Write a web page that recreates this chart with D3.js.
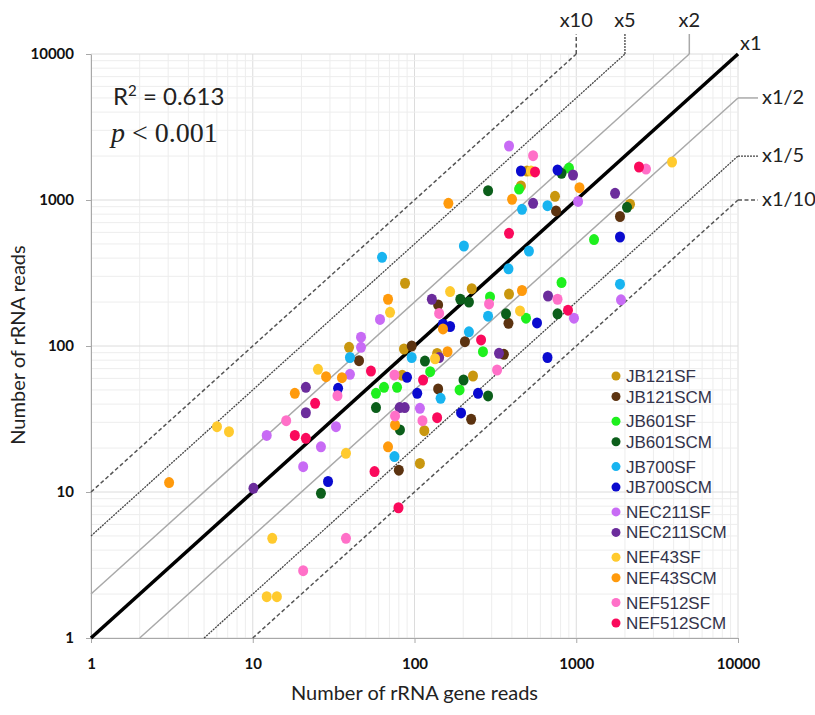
<!DOCTYPE html>
<html>
<head>
<meta charset="utf-8">
<script src="https://cdn.jsdelivr.net/npm/d3@7"></script>
<style>
  body { margin: 0; background: #fff; }
  svg text { font-family: Lato, 'Open Sans', sans-serif; }
</style>
</head>
<body>
<svg width="815" height="715"></svg>
<script>
// nombres de las series (leyenda)
const seriesNames = ['JB121SF', 'JB121SCM', 'JB601SF', 'JB601SCM', 'JB700SF', 'JB700SCM',
  'NEC211SF', 'NEC211SCM', 'NEF43SF', 'NEF43SCM', 'NEF512SF', 'NEF512SCM'];

// [rRNA gene reads, rRNA reads]
const jb121sf = [[496,1580],[455,1247],[739,1060],[2150,935],[226,247],[384,227],[87.4,269],
  [39.4,98],[86.1,95.4],[138,89],[84,63],[230,62.3],[115,26.3],[108,15.7]];
const jb121scm = [[750,841],[1864,771],[140,191],[45.4,79.3],[96.1,100],[140,50.8],[80,14.1],
  [381,143],[205,107],[357,87.7],[224,31.5]];
const jb601sf = [[902,1656],[443,1189],[1288,536],[811,272],[293,217],[125,66.7],[57.8,47.4],
  [64.8,52.1],[78,52.1],[489,155],[265,91.4],[190,50]];
const jb601scm = [[811,1524],[285,1158],[2060,891],[192,209],[217,200],[116,78.9],[57.8,37.9],
  [81.3,26.6],[26.4,9.8],[766,166],[368,166],[201,58.5],[285,45.5]];
const jb700sf = [[462,863],[664,914],[202,484],[510,447],[381,338],[1864,265],[63,405],
  [39.9,83.4],[96.1,83.4],[145,43.8],[75.2,17.5],[285,160],[217,125]];
const jb700scm = [[455,1580],[766,1605],[1864,558],[150,141],[166,136],[33.7,51.3],[89.9,61],
  [104,47.4],[194,34.8],[29.2,11.8],[572,144],[664,83.4],[247,47.4]];
const nec211sf = [[384,2344],[1026,977],[1891,207],[61.2,152],[46.7,115],[46.7,98],[39.9,64],
  [12.2,24.4],[32.7,28],[26.4,20.4],[20.5,14.9],[108,37.4],[968,155]];
const nec211scm = [[955,1483],[1738,1112],[541,949],[128,209],[142,83.4],[21.3,52.1],[21.3,34.9],
  [81,37.9],[87,37.9],[10.1,10.6],[669,220],[333,89.1]];
const nef43sf = [[525,1580],[3910,1821],[166,236],[70.6,170],[134,81.8],[25.3,69.2],[37.7,18.4],
  [6.01,28],[7.13,25.9],[13.2,4.82],[12.2,1.92],[14.1,1.92],[449,174]];
const nef43scm = [[162,949],[401,1011],[1047,1214],[462,240],[68.6,209],[150,131],[160,91.4],
  [28.4,61.6],[35.6,60.7],[18.2,47.4],[75.8,28.8],[68.6,20.4],[3.04,11.6]];
const nef512sf = [[541,2011],[2700,1630],[766,209],[142,167],[289,194],[75.2,63.3],[33.4,45.7],
  [16.1,30.8],[75.8,33.2],[112,30.8],[324,68.5],[37.7,4.82],[20.5,2.89]];
const nef512scm = [[556,1556],[2443,1683],[384,591],[889,176],[53.8,67.4],[113,58.5],[24.3,40.5],
  [18.2,24.4],[21.3,23.3],[138,32.3],[56.6,13.8],[79.6,7.8],[258,110]];

const seriesColors = ['#c9970f', '#5c3310', '#1ef01e', '#0b5e1a', '#18b4f0', '#0a0acf',
  '#c86bf5', '#6b2c9c', '#ffca2e', '#ff9a0c', '#ff70c8', '#fa0a5c'];

const xTicks = [1, 10, 100, 1000, 10000];
const yTicks = [1, 10, 100, 1000, 10000];
const folds = [10, 5, 2, 1, 0.5, 0.2, 0.1];
const foldLabels = ['x10', 'x5', 'x2', 'x1', 'x1/2', 'x1/5', 'x1/10'];

const series = [jb121sf, jb121scm, jb601sf, jb601scm, jb700sf, jb700scm,
  nec211sf, nec211scm, nef43sf, nef43scm, nef512sf, nef512scm]
  .map((pts, i) => ({ name: seriesNames[i], color: seriesColors[i], pts: pts }));

const svg = d3.select('svg');
const margin = { top: 54, bottom: 77, left: 91, right: 77 };
const width = 815 - margin.left - margin.right;
const height = 715 - margin.top - margin.bottom;

const chart = svg.append('g')
  .attr('transform', `translate(${margin.left}, ${margin.top})`);

const xScale = d3.scaleLog().domain([1, 10000]).range([0, width]);
const yScale = d3.scaleLog().domain([1, 10000]).range([height, 0]);

const isMajor = (v) => Math.abs(Math.log10(v) - Math.round(Math.log10(v))) < 1e-9;

/* rejilla */
const grid = chart.append('g').attr('class', 'grid');
grid.selectAll('.gx')
  .data(xScale.ticks())
  .enter().append('line')
  .attr('x1', (d) => xScale(d)).attr('x2', (d) => xScale(d))
  .attr('y1', 0).attr('y2', height)
  .attr('stroke', (d) => isMajor(d) ? '#dcdcdc' : '#ededed')
  .attr('stroke-width', 1);
grid.selectAll('.gy')
  .data(yScale.ticks())
  .enter().append('line')
  .attr('y1', (d) => yScale(d)).attr('y2', (d) => yScale(d))
  .attr('x1', 0).attr('x2', width)
  .attr('stroke', (d) => isMajor(d) ? '#dcdcdc' : '#ededed')
  .attr('stroke-width', 1);

/* ejes */
const xAxis = chart.append('g')
  .attr('transform', `translate(0, ${height})`)
  .call(d3.axisBottom(xScale).tickValues(xTicks).tickFormat(d3.format('d'))
    .tickSize(5).tickSizeOuter(0).tickPadding(15));
const yAxis = chart.append('g')
  .call(d3.axisLeft(yScale).tickValues(yTicks).tickFormat(d3.format('d'))
    .tickSize(5).tickSizeOuter(0).tickPadding(12));
[xAxis, yAxis].forEach((a) => {
  a.selectAll('path, line').attr('stroke', '#a8a8a8');
  a.selectAll('text')
    .style('font-family', 'Lato, sans-serif')
    .attr('font-size', 15)
    .attr('font-weight', 'bold')
    .attr('fill', '#111');
});

/* lineas de proporcion */
const foldStyle = (k) => {
  if (k === 1) return { stroke: '#000', w: 3.5, dash: null };
  if (k === 2 || k === 0.5) return { stroke: '#a9a9a9', w: 1.5, dash: null };
  if (k === 5 || k === 0.2) return { stroke: '#444', w: 1.3, dash: '2,1' };
  return { stroke: '#555', w: 1.5, dash: '4,2.5' };
};

const foldGroup = chart.append('g');
folds.forEach((k, i) => {
  const st = foldStyle(k);
  const x0 = Math.max(1, 1 / k);
  const x1 = Math.min(10000, 10000 / k);
  foldGroup.append('line')
    .attr('x1', xScale(x0)).attr('y1', yScale(k * x0))
    .attr('x2', xScale(x1)).attr('y2', yScale(k * x1))
    .attr('stroke', st.stroke)
    .attr('stroke-width', st.w)
    .attr('stroke-dasharray', st.dash);

  const ex = xScale(x1);
  const ey = yScale(k * x1);
  if (k > 1) {
    foldGroup.append('line')
      .attr('x1', ex).attr('y1', ey).attr('x2', ex).attr('y2', ey - 20)
      .attr('stroke', st.stroke).attr('stroke-width', st.w)
      .attr('stroke-dasharray', st.dash);
    foldGroup.append('text')
      .attr('x', ex).attr('y', ey - 27)
      .attr('text-anchor', 'middle')
      .attr('font-size', 20).attr('fill', '#222')
      .text(foldLabels[i]);
  } else if (k < 1) {
    foldGroup.append('line')
      .attr('x1', ex).attr('y1', ey).attr('x2', ex + 20).attr('y2', ey)
      .attr('stroke', st.stroke).attr('stroke-width', st.w)
      .attr('stroke-dasharray', st.dash);
    foldGroup.append('text')
      .attr('x', ex + 24).attr('y', ey + 6)
      .attr('font-size', 20).attr('fill', '#222')
      .text(foldLabels[i]);
  } else {
    foldGroup.append('text')
      .attr('x', ex + 2).attr('y', ey - 4)
      .attr('font-size', 20).attr('fill', '#222')
      .text(foldLabels[i]);
  }
});

/* puntos */
const dots = chart.append('g');
series.forEach((s) => {
  dots.selectAll(null)
    .data(s.pts)
    .enter().append('ellipse')
    .attr('cx', (d) => xScale(d[0]))
    .attr('cy', (d) => yScale(d[1]))
    .attr('rx', 5)
    .attr('ry', 5.5)
    .attr('fill', s.color);
});

/* R2 y p */
const stat = svg.append('g');
const r2 = stat.append('text')
  .attr('x', 113).attr('y', 105)
  .attr('font-size', 24).attr('fill', '#222');
r2.append('tspan').text('R');
r2.append('tspan').attr('font-size', 15).attr('dy', -9).text('2');
r2.append('tspan').attr('dy', 9).text(' = 0.613');

const pv = stat.append('text')
  .attr('x', 111).attr('y', 142)
  .style('font-family', "'Liberation Serif', 'DejaVu Serif', serif")
  .attr('font-size', 28).attr('fill', '#222');
pv.append('tspan').attr('font-style', 'italic').text('p');
pv.append('tspan').text(' < 0.001');

/* titulos de ejes */
svg.append('text')
  .attr('x', margin.left + width / 2).attr('y', 700)
  .attr('text-anchor', 'middle')
  .attr('font-size', 20).attr('fill', '#222')
  .text('Number of rRNA gene reads');
svg.append('text')
  .attr('transform', 'translate(25, 345) rotate(-90)')
  .attr('text-anchor', 'middle')
  .attr('font-size', 20).attr('fill', '#222')
  .text('Number of rRNA reads');

/* leyenda */
const legend = svg.append('g').attr('transform', 'translate(616, 376)');
const legendItems = legend.selectAll('g')
  .data(series)
  .enter().append('g')
  .attr('transform', (d, i) => `translate(0, ${Math.floor(i / 2) * 45.3 + (i % 2) * 20.5})`);
legendItems.append('circle')
  .attr('r', 4.5)
  .attr('fill', (d) => d.color);
legendItems.append('text')
  .attr('x', 10).attr('y', 6)
  .style('font-family', "'Liberation Sans', Arial, sans-serif")
  .attr('font-size', 17)
  .attr('fill', '#33334a')
  .text((d) => d.name);
</script>
</body>
</html>
